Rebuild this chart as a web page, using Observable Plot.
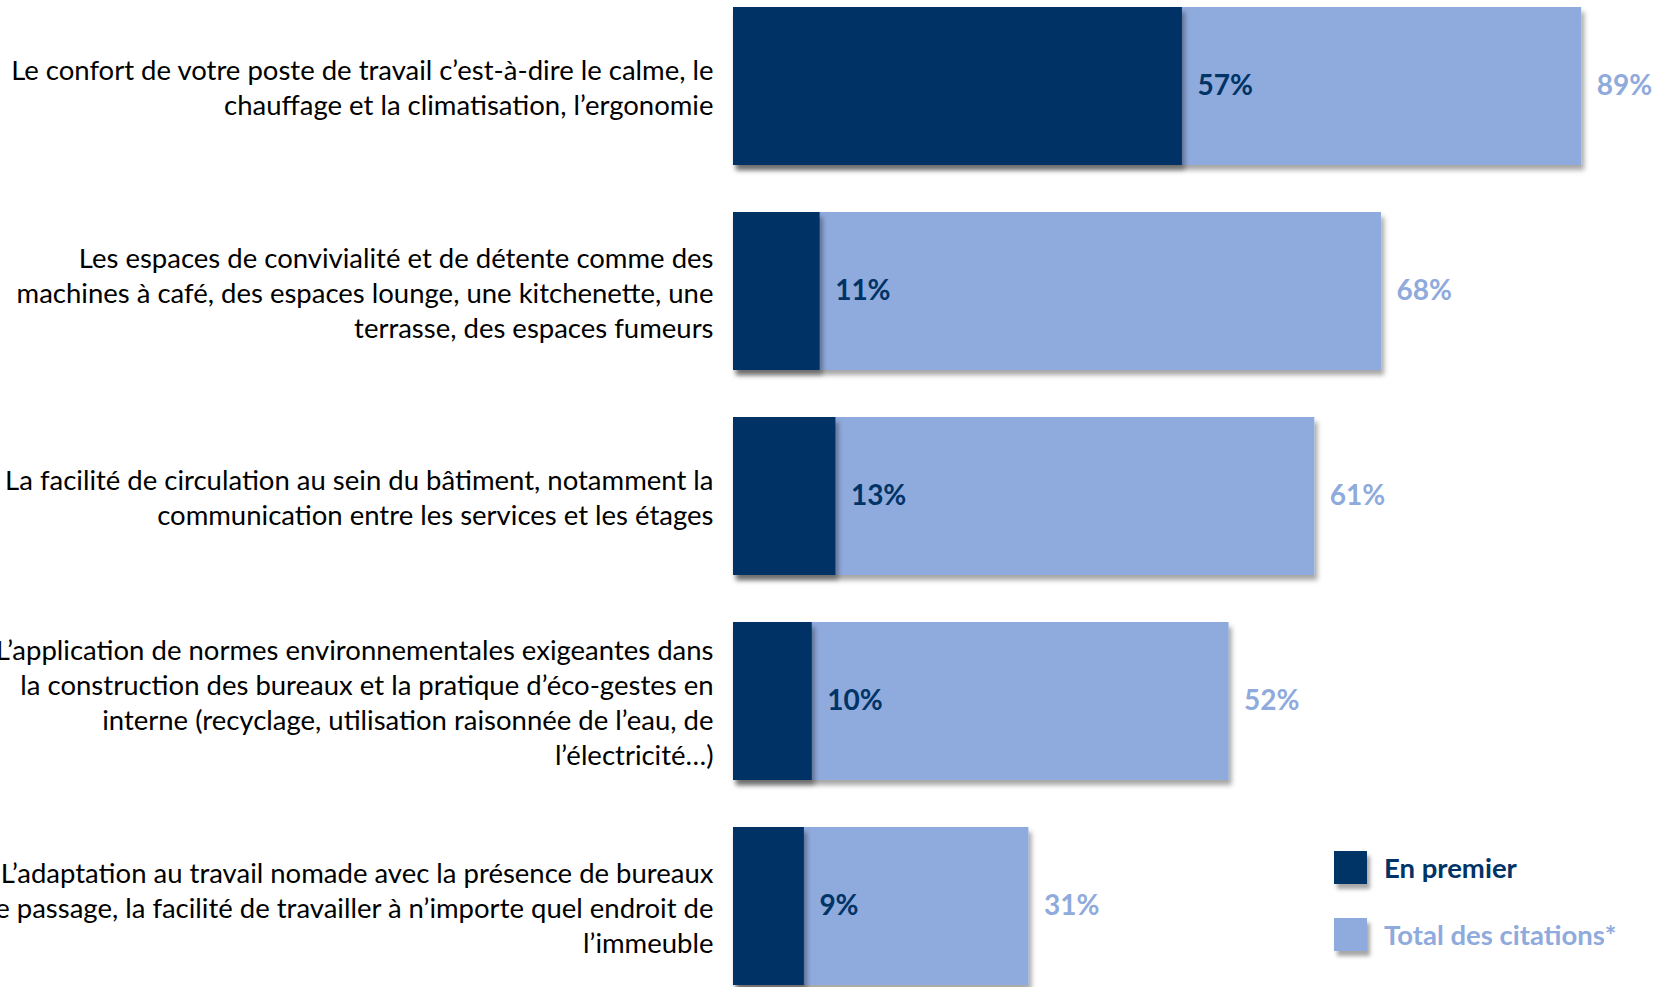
<!DOCTYPE html>
<html><head><meta charset="utf-8">
<script src="https://cdn.jsdelivr.net/npm/d3@7"></script>
<script src="https://cdn.jsdelivr.net/npm/@observablehq/plot@0.6"></script>
<style>
body{margin:0;background:#fff;}
#wrap{position:relative;width:1658px;height:987px;overflow:hidden;}
#legend{position:absolute;left:1334px;top:851px;font-family:Lato,sans-serif;font-weight:bold;font-size:27.5px;}
.item{display:flex;align-items:center;height:33px;margin-bottom:34px;white-space:nowrap;}
.sw{width:33px;height:33px;margin-right:17px;box-shadow:3px 5px 4px rgba(0,0,0,0.35);}
</style></head><body><div id="wrap"></div>
<script>
const categories = [
  "Le confort de votre poste de travail c’est-à-dire le calme, le\nchauffage et la climatisation, l’ergonomie",
  "Les espaces de convivialité et de détente comme des\nmachines à café, des espaces lounge, une kitchenette, une\nterrasse, des espaces fumeurs",
  "La facilité de circulation au sein du bâtiment, notamment la\ncommunication entre les services et les étages",
  "L’application de normes environnementales exigeantes dans\nla construction des bureaux et la pratique d’éco-gestes en\ninterne (recyclage, utilisation raisonnée de l’eau, de\nl’électricité…)",
  "L’adaptation au travail nomade avec la présence de bureaux\nde passage, la facilité de travailler à n’importe quel endroit de\nl’immeuble"
];
const premier = [57, 11, 13, 10, 9];
const total = [89, 68, 61, 52, 31];
const seriesNames = ["En premier", "Total des citations*"];
const seriesColors = ["#003366", "#8FAADC"];
// "En premier" is plotted on a secondary axis running 0–121
const secondaryAxisMax = 121;

const rows = categories.map((c, i) => ({category: c, premier: premier[i], total: total[i]}));
const FONT = "Lato, sans-serif";
const sec = d => d.premier * 100 / secondaryAxisMax;

const plot = Plot.plot({
  width: 1658, height: 987,
  marginLeft: 733, marginRight: 0, marginTop: 0, marginBottom: 0,
  x: {domain: [0, 100], range: [733, 1686], axis: null},
  y: {domain: categories, range: [6, 985], paddingInner: 0.23, paddingOuter: 0, axis: null},
  style: {fontFamily: FONT, background: "transparent", overflow: "visible"},
  marks: [
    Plot.barX(rows, {y: "category", x1: 0, x2: "total", fill: seriesColors[1]}),
    Plot.barX(rows, {y: "category", x1: 0, x2: sec, fill: seriesColors[0]}),
    Plot.text(rows, {y: "category", x: sec, text: d => d.premier + "%", textAnchor: "start", dx: 15, fill: seriesColors[0], fontWeight: "bold", fontSize: 28}),
    Plot.text(rows, {y: "category", x: "total", text: d => d.total + "%", textAnchor: "start", dx: 15, fill: seriesColors[1], fontWeight: "bold", fontSize: 28}),
    Plot.text(rows, {y: "category", x: 0, text: "category", textAnchor: "end", dx: -20, fontSize: 27.5, lineHeight: 1.273, fill: "#000"})
  ]
});

// drop shadow under bars
const ns = "http://www.w3.org/2000/svg";
const defs = document.createElementNS(ns, "defs");
defs.innerHTML = '<filter id="shadow" x="-5%" y="-5%" width="115%" height="125%"><feDropShadow dx="3" dy="5" stdDeviation="2.5" flood-color="#000" flood-opacity="0.35"/></filter>';
plot.insertBefore(defs, plot.firstChild);
plot.querySelectorAll('g[aria-label="bar"] rect').forEach(r => r.setAttribute("filter", "url(#shadow)"));

const wrap = document.getElementById("wrap");
wrap.appendChild(plot);

const legend = document.createElement("div");
legend.id = "legend";
seriesNames.forEach((name, i) => {
  const it = document.createElement("div");
  it.className = "item";
  const sw = document.createElement("div");
  sw.className = "sw";
  sw.style.background = seriesColors[i];
  const t = document.createElement("span");
  t.textContent = name;
  t.style.color = seriesColors[i];
  it.appendChild(sw); it.appendChild(t);
  legend.appendChild(it);
});
wrap.appendChild(legend);
</script></body></html>
